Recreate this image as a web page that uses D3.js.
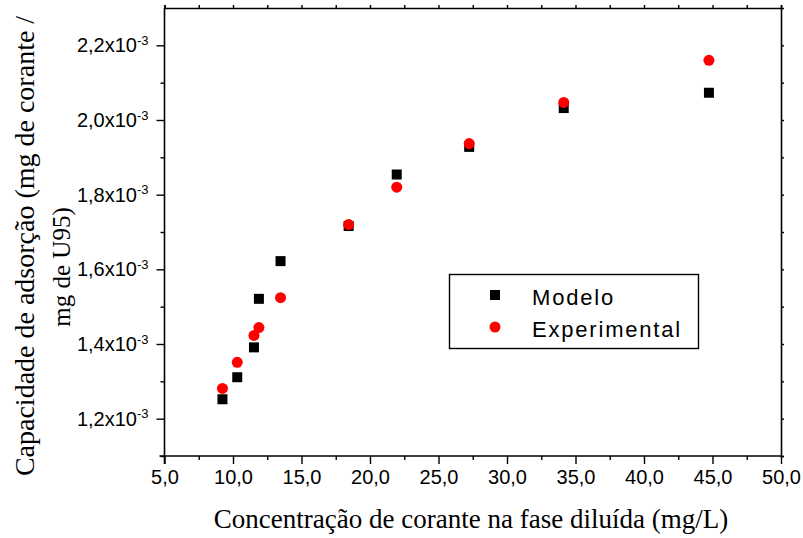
<!DOCTYPE html>
<html><head><meta charset="utf-8">
<script src="https://cdn.jsdelivr.net/npm/d3@7"></script>
<style>
html,body{margin:0;padding:0;background:#fff;}
svg{display:block;}
</style>
</head><body>
<svg id="chart" width="803" height="538"></svg>
<script>
// ---- data ----
const concentracao = [9.23, 10.31, 11.53, 11.89, 13.47, 18.44, 21.95, 27.24, 34.14, 44.74];
const modelo = [1.252e-3, 1.311e-3, 1.391e-3, 1.521e-3, 1.622e-3, 1.716e-3, 1.854e-3, 1.928e-3, 2.032e-3, 2.073e-3];
const experimental = [1.281e-3, 1.351e-3, 1.423e-3, 1.444e-3, 1.524e-3, 1.720e-3, 1.820e-3, 1.937e-3, 2.047e-3, 2.160e-3];
const xTicks = [5, 10, 15, 20, 25, 30, 35, 40, 45, 50];
const xMinorTicks = [7.5, 12.5, 17.5, 22.5, 27.5, 32.5, 37.5, 42.5, 47.5];
const yTicks = [1.2e-3, 1.4e-3, 1.6e-3, 1.8e-3, 2.0e-3, 2.2e-3];
const yMinorTicks = [1.1e-3, 1.3e-3, 1.5e-3, 1.7e-3, 1.9e-3, 2.1e-3];
const seriesNames = ["Modelo", "Experimental"];
const xTitle = "Concentração de corante na fase diluída (mg/L)";
const yTitle = ["Capacidade de adsorção (mg de corante /", "mg de U95)"];

// ---- layout ----
const L = 164.5, R = 781, T = 8, B = 456;
const svg = d3.select("#chart");
const x = d3.scaleLinear().domain([5, 50]).range([L, R]);
const y = d3.scaleLinear().domain([1.1e-3, 2.3e-3]).range([B, T]);

const sans = "'Liberation Sans', Arial, sans-serif";
const serif = "'Liberation Serif', 'Times New Roman', serif";

// frame axes
const gx = svg.append("g").attr("transform", `translate(0,${B})`)
  .call(d3.axisBottom(x).tickValues(xTicks).tickSize(8).tickPadding(6)
    .tickFormat(d => d3.format(".1f")(d).replace(".", ",")));
const gxm = svg.append("g").attr("transform", `translate(0,${B})`)
  .call(d3.axisBottom(x).tickValues(xMinorTicks).tickSize(4).tickFormat(""));
gxm.select(".domain").remove();

const gy = svg.append("g").attr("transform", `translate(${L},0)`)
  .call(d3.axisLeft(y).tickValues(yTicks).tickSize(8).tickPadding(6).tickFormat(""));
const gym = svg.append("g").attr("transform", `translate(${L},0)`)
  .call(d3.axisLeft(y).tickValues(yMinorTicks).tickSize(4).tickFormat(""));
gym.select(".domain").remove();

const gt = svg.append("g").attr("transform", `translate(0,${T})`)
  .call(d3.axisTop(x).tickValues(xTicks.concat(xMinorTicks)).tickSize(3).tickFormat(""));
const gr = svg.append("g").attr("transform", `translate(${R},0)`)
  .call(d3.axisRight(y).tickValues(yTicks.concat(yMinorTicks)).tickSize(3).tickFormat(""));

[gx, gxm, gy, gym, gt, gr].forEach(g => {
  g.selectAll(".domain").attr("stroke", "#000").attr("stroke-width", 1.6);
  g.selectAll(".tick line").attr("stroke", "#000").attr("stroke-width", 1.4);
  g.selectAll("text").attr("font-family", sans).attr("font-size", "20px").attr("fill", "#000");
});

gy.selectAll(".tick text").each(function(d){
  const t = d3.select(this);
  t.append("tspan").text(d3.format(".1f")(d * 1e3).replace(".", ",") + "x10");
  t.append("tspan").attr("dy", "-0.55em").attr("font-size", "13px").text("-3");
}).attr("dx", "-2px");

// extend left axis slightly below x axis as in reference
gy.select(".domain").attr("d", `M0,${T}V${B + 8}`);
gx.select(".domain").attr("d", `M${L - 5},0H${R}`);

// points
svg.append("g").selectAll("rect").data(concentracao).join("rect")
  .attr("x", (d) => x(d) - 5).attr("y", (d, i) => y(modelo[i]) - 5)
  .attr("width", 10).attr("height", 10).attr("fill", "#000");
svg.append("g").selectAll("circle").data(concentracao).join("circle")
  .attr("cx", d => x(d)).attr("cy", (d, i) => y(experimental[i]))
  .attr("r", 5.5).attr("fill", "#ff0000");

// legend
const lg = svg.append("g");
lg.append("rect").attr("x", 449.5).attr("y", 274.5).attr("width", 249).attr("height", 74)
  .attr("fill", "#fff").attr("stroke", "#000").attr("stroke-width", 1.4);
lg.append("rect").attr("x", 490).attr("y", 290).attr("width", 10).attr("height", 10).attr("fill", "#000");
lg.append("circle").attr("cx", 495).attr("cy", 327).attr("r", 5.5).attr("fill", "#ff0000");
lg.selectAll("text.leg").data(seriesNames).join("text").attr("class", "leg")
  .attr("x", 532).attr("y", (d, i) => 305 + i * 32)
  .attr("font-family", sans).attr("font-size", "22px").attr("letter-spacing", "1.8px")
  .attr("fill", "#000").text(d => d);

// titles
svg.append("text").attr("x", 471).attr("y", 528).attr("text-anchor", "middle")
  .attr("font-family", serif).attr("font-size", "27px").attr("fill", "#000").text(xTitle);
svg.append("text").attr("transform", "translate(34,246) rotate(-90)").attr("text-anchor", "middle")
  .attr("font-family", serif).attr("font-size", "28px").attr("fill", "#000").text(yTitle[0]);
svg.append("text").attr("transform", "translate(70,267) rotate(-90)").attr("text-anchor", "middle")
  .attr("font-family", serif).attr("font-size", "25px").attr("fill", "#000").text(yTitle[1]);
</script>
</body></html>
